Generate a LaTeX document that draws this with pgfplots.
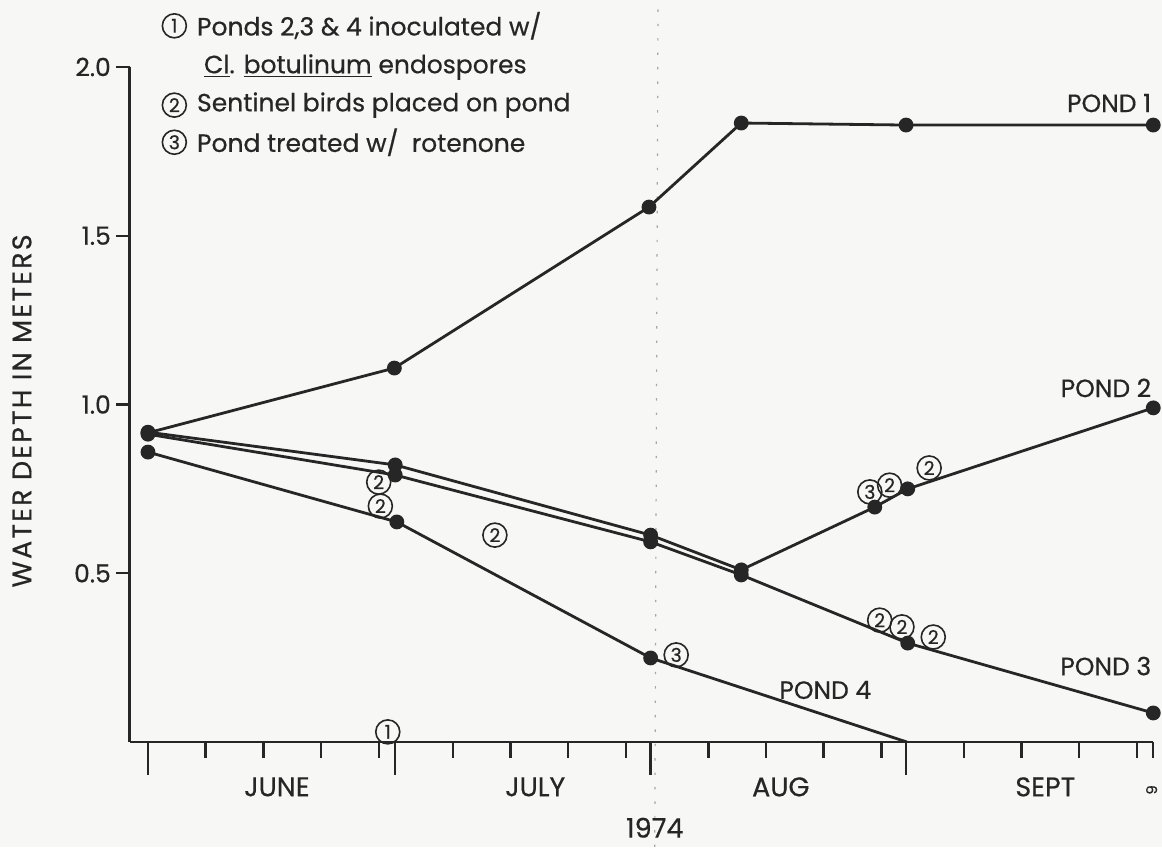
\documentclass[border=0pt]{standalone}
\usepackage{fontspec}
\setmainfont{Poppins}[FakeBold=0.5]
\usepackage{pgfplots}
\pgfplotsset{compat=1.18}
\definecolor{bg}{RGB}{247,247,246}
\definecolor{ink}{RGB}{38,38,38}
\begin{document}
\begin{tikzpicture}[font=\fontsize{12.5}{14}\selectfont,
  cn/.style={circle, draw=ink, line width=0.8pt, inner sep=0pt, minimum size=12pt, text=ink, font=\fontsize{9.5}{9.5}\selectfont}]
\path[use as bounding box, fill=bg] (-64.93pt,-52.5pt) rectangle (516.07pt,371pt);
\begin{axis}[
  at={(0,0)}, anchor=south west,
  x=4.12pt, y=168.75pt,
  xmin=-2.2, xmax=122, ymin=0, ymax=2,
  axis lines=left,
  axis line style={-, line width=1.4pt, ink},
  clip=false,
  xtick=\empty,
  ytick={0.5,1,1.5,2},
  yticklabels={0.5,1.0,1.5,2.0},
  tick align=outside,
  major tick length=7pt,
  ytick style={line width=1.2pt, ink},
  yticklabel style={font=\fontsize{12.5}{14}\selectfont, text=ink, xshift=1pt},
  pond/.style={line width=1.4pt, ink, mark=*, mark size=3pt, mark options={solid, fill=ink, draw=ink}},
]
% fold line of the scan
\draw[black!35, line width=0.6pt, dash pattern=on 1.2pt off 6pt] (axis cs:61.5,-0.311) -- (axis cs:61.9,2.2);

% Pond 1
\addplot[pond] coordinates {(0,0.916) (29.9,1.108) (60.8,1.585) (72,1.834) (92,1.828) (122,1.828)};
% Pond 2
\addplot[pond] coordinates {(0,0.918) (30,0.821) (61,0.613) (72,0.510) (88.2,0.696) (92.2,0.750) (122,0.990)};
% Pond 3
\addplot[pond] coordinates {(0,0.912) (30,0.791) (61,0.593) (72,0.495) (92.2,0.293) (122,0.086)};
% Pond 4
\addplot[pond, mark indices={1,2,3}] coordinates {(0,0.859) (30.2,0.652) (61,0.249) (92.1,0)};

% x ticks
\pgfplotsinvokeforeach{0,30,61,92}{\draw[line width=1.2pt, ink] (axis cs:#1,0) -- ++(0pt,-16.5pt);}
\pgfplotsinvokeforeach{7,14,21,28,37,44,51,58,68,75,82,89,99,106,113,120,122}{\draw[line width=1.2pt, ink] (axis cs:#1,0) -- ++(0pt,-8pt);}

% month labels
\node[text=ink, font=\fontsize{13.5}{15}\selectfont] at (axis cs:15.65,-0.133) {JUNE};
\node[text=ink, font=\fontsize{13.5}{15}\selectfont] at (axis cs:47.0,-0.133) {JULY};
\node[text=ink, font=\fontsize{13.5}{15}\selectfont] at (axis cs:76.8,-0.133) {AUG};
\node[text=ink, font=\fontsize{13.5}{15}\selectfont] at (axis cs:108.9,-0.133) {SEPT};
\node[text=ink, font=\fontsize{13.5}{15}\selectfont, inner sep=1pt] at (axis cs:61.5,-0.254) {1974};
\node[text=ink, font=\fontsize{7.5}{8}\selectfont, rotate=90] at (axis cs:121.8,-0.142) {9};

% y label
\node[text=ink, rotate=90, font=\fontsize{13.5}{15}\selectfont\addfontfeature{LetterSpace=8}] at (axis cs:-15.3,0.981) {WATER DEPTH IN METERS};

% pond labels
\node[text=ink, anchor=east] at (axis cs:122.6,1.893) {POND 1};
\node[text=ink, anchor=east] at (axis cs:122.6,1.049) {POND 2};
\node[text=ink, anchor=east] at (axis cs:122.6,0.225) {POND 3};
\node[text=ink] at (axis cs:82.2,0.154) {POND 4};

% legend text
\node[cn] at (axis cs:3.2,2.122) {1};
\node[text=ink, anchor=west] at (axis cs:5.1,2.122) {Ponds 2,3 \& 4 inoculated w/};
\node[text=ink, anchor=west] at (axis cs:5.95,2.0) {\underline{Cl}. \underline{botulinum} endospores};
\node[cn] at (axis cs:3.2,1.887) {2};
\node[text=ink, anchor=west] at (axis cs:5.1,1.887) {Sentinel birds placed on pond};
\node[cn] at (axis cs:3.2,1.777) {3};
\node[text=ink, anchor=west] at (axis cs:5.1,1.777) {Pond treated w/~ rotenone};

% event markers
\node[cn] at (axis cs:29.1,0.030) {1};
\node[cn] at (axis cs:28.0,0.770) {2};
\node[cn] at (axis cs:28.2,0.699) {2};
\node[cn] at (axis cs:42.1,0.613) {2};
\node[cn] at (axis cs:64.1,0.258) {3};
\node[cn] at (axis cs:87.6,0.741) {3};
\node[cn] at (axis cs:90.0,0.761) {2};
\node[cn] at (axis cs:94.8,0.812) {2};
\node[cn] at (axis cs:88.8,0.361) {2};
\node[cn] at (axis cs:91.5,0.341) {2};
\node[cn] at (axis cs:95.3,0.311) {2};
\end{axis}
\end{tikzpicture}
\end{document}
